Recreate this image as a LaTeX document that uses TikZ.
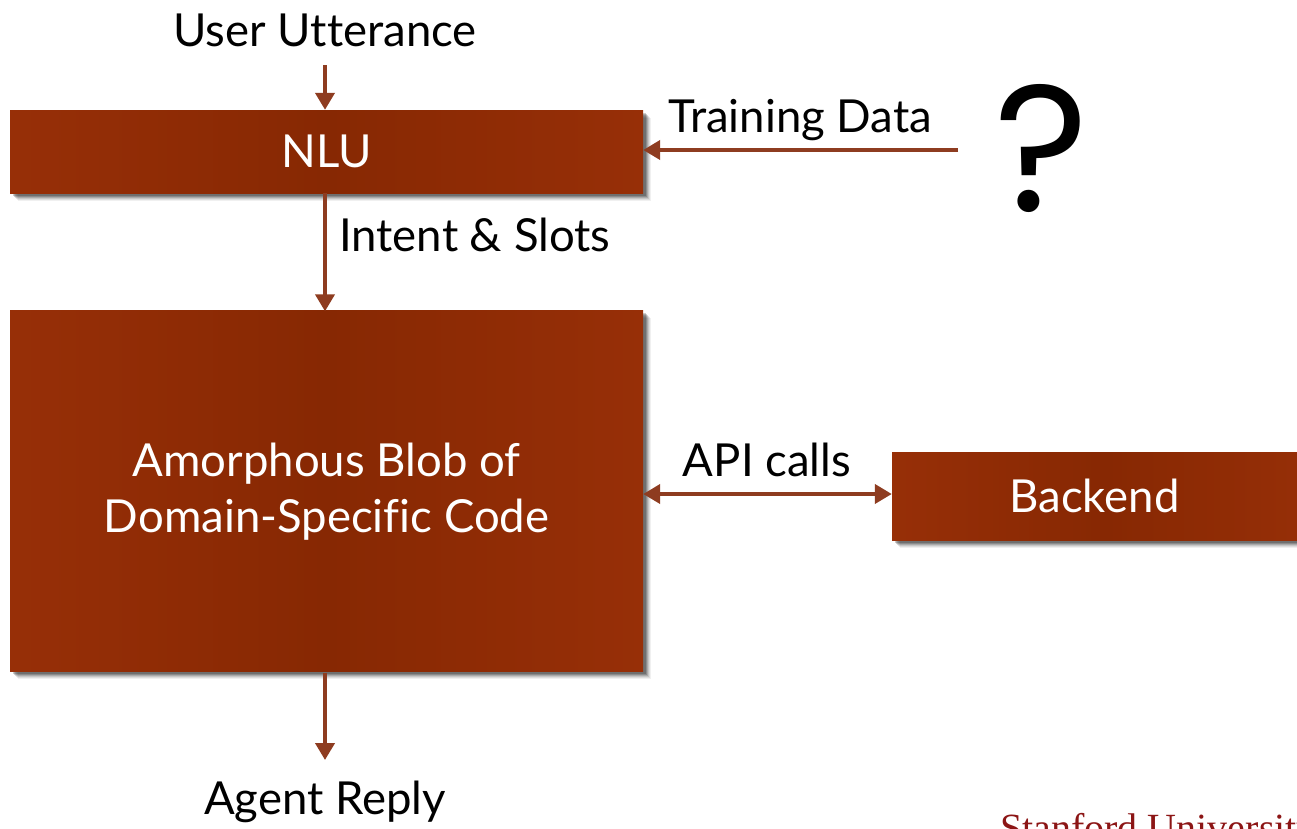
\documentclass[tikz,border=0pt]{standalone}
\usepackage{fontspec}
\setmainfont{Lato}[Ligatures=NoCommon]
\newfontfamily\serifuni{Liberation Serif}
\newfontfamily\qfont{Poppins}
\usetikzlibrary{arrows.meta}
\definecolor{arrc}{HTML}{8E3C20}
\definecolor{stan}{HTML}{8C1515}
\definecolor{shedge}{HTML}{8B4026}
\definecolor{shbright}{HTML}{9E3209}
\definecolor{shdark}{HTML}{872803}
\pgfdeclarehorizontalshading{boxshade}{100bp}{%
  color(0bp)=(shedge);
  color(14bp)=(shbright);
  color(50bp)=(shdark);
  color(86bp)=(shbright);
  color(100bp)=(shedge)}
\tikzset{
  x=1pt, y=-1pt,
  txt/.style={font=\fontsize{45.5}{50}\selectfont, text=black, inner sep=0pt},
  boxtxt/.style={font=\fontsize{45.5}{56}\selectfont, text=white, align=center},
  arr/.style={draw=arrc, line width=4pt, -{Triangle[length=17pt,width=19pt]}},
  darr/.style={draw=arrc, line width=4pt, {Triangle[length=17pt,width=19pt]}-{Triangle[length=17pt,width=19pt]}},
}
\newcommand{\shadowbox}[4]{% x1 y1 x2 y2
  \foreach \o/\op in {8/0.06,7/0.08,6/0.1,5/0.14,4/0.18,3/0.2}{
    \fill[black, opacity=\op] (#1+\o,#2+\o) rectangle (#3+\o,#4+\o);}
  \shade[shading=boxshade] (#1,#2) rectangle (#3,#4);
}
\begin{document}
\begin{tikzpicture}
\clip (0,0) rectangle (1297,828);
\fill[white] (0,0) rectangle (1297,828);
% boxes
\shadowbox{10}{110}{643}{193}
\shadowbox{10}{310}{643}{671}
\shadowbox{892}{452}{1320}{540}
\node[boxtxt, minimum width=633pt, minimum height=83pt] (nlu) at (326.5,151.5) {NLU};
\node[boxtxt, minimum width=633pt, minimum height=361pt] (blob) at (326.5,492) {Amorphous Blob of\\Domain-Specific Code};
\node[boxtxt, minimum width=405pt, minimum height=88pt] (be) at (1094.5,496) {Backend};
% texts
\node[txt] (uu) at (325,30) {User Utterance};
\node[txt, anchor=west] (is) at (339,235) {Intent \& Slots};
\node[txt, anchor=west] (tdl) at (668,120) {Training Data};
\node[txt] (api) at (767,460) {API calls};
\node[txt] (ar) at (325,802) {Agent Reply};
\node[font=\qfont\fontsize{180}{180}\selectfont, inner sep=0pt] (q) at (1042,148) {?};
\node[font=\serifuni\fontsize{40}{40}\selectfont, text=stan, anchor=north west, inner sep=0pt] (su) at (1000,813) {Stanford University};
% connectors
\coordinate (uuend) at (325,65);
\coordinate (tdstart) at (958,150);
\coordinate (arend) at (325,760);
\draw[arr] (uuend) -- (nlu.north -| uuend);
\draw[arr] (nlu.south -| uuend) -- (blob.north -| uuend);
\draw[arr] (tdstart) -- (tdstart -| nlu.east);
\draw[darr] (blob.east |- 0,494) -- (be.west |- 0,494);
\draw[arr] (blob.south -| arend) -- (arend);
\end{tikzpicture}
\end{document}
